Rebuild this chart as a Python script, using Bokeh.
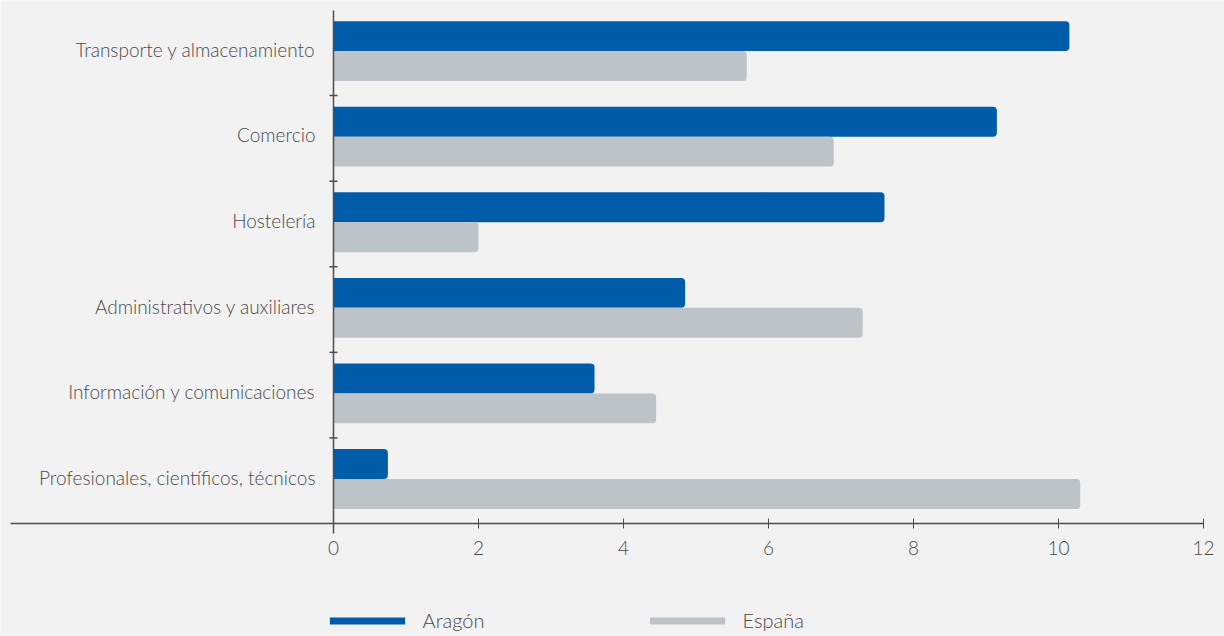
from bokeh.plotting import figure
from bokeh.models import (Range1d, LinearAxis, FixedTicker, ColumnDataSource,
                          Legend, LegendItem)
from bokeh.transform import dodge
from bokeh.embed import file_html
from bokeh.resources import INLINE

# Sectors, top to bottom
categories = [
    "Transporte y almacenamiento",
    "Comercio",
    "Hostelería",
    "Administrativos y auxiliares",
    "Información y comunicaciones",
    "Profesionales, científicos, técnicos",
]
aragon = [10.15, 9.15, 7.6, 4.85, 3.6, 0.75]
espana = [5.7, 6.9, 2.0, 7.3, 4.45, 10.3]
x_ticks = [0, 2, 4, 6, 8, 10, 12]
series_names = ["Aragón", "España"]
series_colors = ["#005ca9", "#bcc4ca"]

BG = "#f2f2f2"
TEXT = "#4a4a4a"
AXIS = "#4d4d4d"
FONT = "Lato Light"
FS = "19px"

W, H = 1224, 636
# screen geometry of the plotting area
X0_PX, PX_PER_X = 333.0, 72.5          # pixel of value 0 and pixels per unit
BOTTOM_PX, TOP_PX = 523.0, 9.5          # x-axis line and top of the value axis
n = len(categories)
PX_PER_Y = (BOTTOM_PX - TOP_PX) / n

x_start = -X0_PX / PX_PER_X
x_end = (W - X0_PX) / PX_PER_X
y_start = -0.5 - (H - BOTTOM_PX) / PX_PER_Y
y_end = n - 0.5 + TOP_PX / PX_PER_Y

pos = list(range(n - 1, -1, -1))
src = ColumnDataSource(dict(pos=pos, aragon=aragon, espana=espana, cat=categories))

p = figure(width=W, height=H, output_backend="svg", toolbar_location=None,
           x_range=Range1d(x_start, x_end), y_range=Range1d(y_start, y_end),
           x_axis_location=None, y_axis_location=None, min_border=0,
           background_fill_color=BG, border_fill_color=BG,
           outline_line_color=None)
p.xgrid.visible = False
p.ygrid.visible = False

bar_h = 0.35
r_a = p.hbar(y=dodge("pos", bar_h / 2 + 0.02, range=p.y_range), left=0, right="aragon",
             height=bar_h, source=src, fill_color=series_colors[0],
             line_color=None, border_radius=(0, 4, 4, 0))
r_e = p.hbar(y=dodge("pos", -bar_h / 2 + 0.02, range=p.y_range), left=0, right="espana",
             height=bar_h, source=src, fill_color=series_colors[1],
             line_color=None, border_radius=(0, 4, 4, 0))

# value axis along the bottom of the bars
xaxis = LinearAxis(fixed_location=-0.5, ticker=FixedTicker(ticks=x_ticks),
                   bounds=((10 - X0_PX) / PX_PER_X, x_ticks[-1]))
xaxis.axis_line_color = AXIS
xaxis.axis_line_width = 1.5
xaxis.major_tick_line_color = AXIS
xaxis.major_tick_in = 5
xaxis.major_tick_out = 5
xaxis.minor_tick_line_color = None
xaxis.major_label_standoff = 12
xaxis.major_label_text_font = FONT
xaxis.major_label_text_font_size = FS
xaxis.major_label_text_color = TEXT
p.add_layout(xaxis, "below")

# vertical line at zero
zero_line = LinearAxis(fixed_location=0, ticker=FixedTicker(ticks=[]),
                       bounds=(-0.5 - 10 / PX_PER_Y, n - 0.5))
zero_line.axis_line_color = AXIS
zero_line.axis_line_width = 1.5
zero_line.major_tick_line_color = None
zero_line.minor_tick_line_color = None
p.add_layout(zero_line, "left")

# short separators between sectors, crossing the zero line
tick_len = 4 / PX_PER_X
bounds_y = [i + 0.5 for i in range(n - 1)]
p.segment(x0=[-tick_len] * len(bounds_y), x1=[tick_len] * len(bounds_y),
          y0=bounds_y, y1=bounds_y, line_color=AXIS, line_width=1.5)

# sector names
names = LinearAxis(fixed_location=0, ticker=FixedTicker(ticks=[q + 0.04 for q in pos]),
                   major_label_overrides={q + 0.04: c for q, c in zip(pos, categories)})
names.axis_line_color = None
names.major_tick_line_color = None
names.major_tick_in = 0
names.major_tick_out = 0
names.minor_tick_line_color = None
names.major_label_standoff = 18
names.major_label_text_font = FONT
names.major_label_text_font_size = FS
names.major_label_text_color = TEXT
p.add_layout(names, "left")

# legend entries along the bottom
for r, name, lx in [(r_a, series_names[0], 319.6), (r_e, series_names[1], 639.6)]:
    leg = Legend(items=[LegendItem(label=name, renderers=[r])],
                 location=(lx, 4), orientation="horizontal",
                 glyph_width=94, glyph_height=9, label_standoff=9,
                 padding=0, margin=0, border_line_color=None,
                 background_fill_alpha=0, label_text_font=FONT,
                 label_text_font_size="20px", label_text_color=TEXT)
    p.add_layout(leg)

open("out.html", "w").write(file_html(p, INLINE))
